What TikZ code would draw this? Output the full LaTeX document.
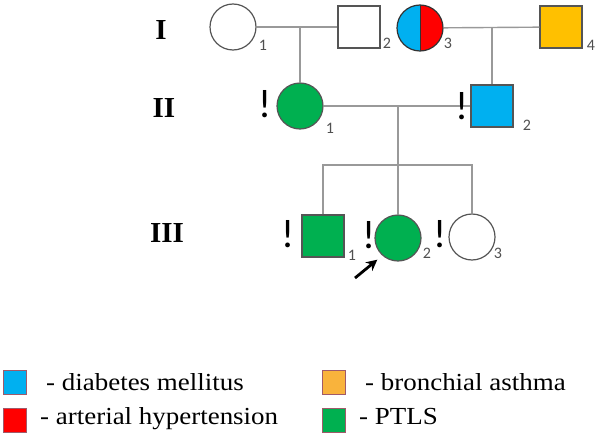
\documentclass[tikz,border=0pt]{standalone}
\usepackage{fontspec}
\setmainfont{Liberation Serif}
\newfontfamily\numfont{Carlito}
\newfontfamily\keyfont[FakeStretch=1.1]{Liberation Serif}
\usetikzlibrary{arrows.meta}
\definecolor{dmblue}{HTML}{00B0F0}
\definecolor{ahred}{HTML}{FF0000}
\definecolor{baorange}{HTML}{FFC000}
\definecolor{keyorange}{HTML}{F9B33C}
\definecolor{ptgreen}{HTML}{00B050}
\definecolor{edge}{HTML}{555555}
\definecolor{link}{HTML}{999999}
\definecolor{keyedge}{HTML}{A05A6A}
\definecolor{numgray}{HTML}{505050}

\begin{document}
\begin{tikzpicture}[x=1pt,y=-1pt,
  fem/.style={circle,draw=edge,line width=1.2pt,minimum size=46pt,inner sep=0pt},
  male/.style={rectangle,draw=edge,line width=1.2pt,minimum size=42pt,inner sep=0pt},
  line/.style={draw=link,line width=1.4pt},
  num/.style={font=\numfont\fontsize{16}{16}\selectfont,text=numgray,inner sep=0pt},
  warn/.style={font=\numfont\fontsize{40}{40}\selectfont,inner sep=0pt},
  gen/.style={font=\fontsize{29}{30}\selectfont\bfseries},
  key/.style={rectangle,draw=keyedge,line width=0.8pt,minimum width=23pt,minimum height=24pt,inner sep=0pt},
  keytext/.style={font=\keyfont\fontsize{24.5}{28}\selectfont,anchor=base west,inner sep=0pt}]
  \useasboundingbox (0,0) rectangle (597,436);
  % generations
  \node[gen] (gI) at (161,30) {I};
  \node[gen] (gII) at (164,108) {II};
  \node[gen] (gIII) at (167,233) {III};
  % generation I
  \node[fem] (I1) at (233,27) {};
  \node[male] (I2) at (359,27) {};
  \node[fem,fill=dmblue,draw=black!80,
    path picture={\fill[ahred] (path picture bounding box.north) rectangle (path picture bounding box.south east);
      \draw[black!80,line width=0.8pt] (path picture bounding box.north) -- (path picture bounding box.south);}] (I3) at (420,28) {};
  \node[male,fill=baorange] (I4) at (561,27) {};
  % generation II
  \node[fem,fill=ptgreen] (II1) at (300,106) {};
  \node[male,fill=dmblue] (II2) at (492,106) {};
  % generation III
  \node[male,fill=ptgreen] (III1) at (323,236) {};
  \node[fem,fill=ptgreen] (III2) at (398,238) {};
  \node[fem] (III3) at (472,237) {};
  \coordinate (sib) at (398,165);
  % lines
  \draw[line] (I1) -- (I2);
  \draw[line] (II1) -- (II1 |- I1);
  \draw[line] (I3) -- (I4);
  \draw[line] (II2) -- (II2 |- I4);
  \draw[line] (II1) -- (II2);
  \draw[line] (III2) -- (III2 |- II1);
  \draw[line] (III1) -- (III1 |- sib) -- (III3 |- sib) -- (III3);
  % numbers
  \node[num] (nI1) at (263,45) {1};
  \node[num] (nI2) at (387,43) {2};
  \node[num] (nI3) at (448,43) {3};
  \node[num] (nI4) at (591,45) {4};
  \node[num] (nII1) at (330,128) {1};
  \node[num] (nII2) at (527,125) {2};
  \node[num] (nIII1) at (352,255) {1};
  \node[num] (nIII2) at (427,253) {2};
  \node[num] (nIII3) at (498,253) {3};
  % exclamation marks
  \node[warn] (wII1) at (265,104) {!};
  \node[warn] (wII2) at (462,106) {!};
  \node[warn] (wIII1) at (288,234) {!};
  \node[warn] (wIII2) at (369,235) {!};
  \node[warn] (wIII3) at (440,234) {!};
  % proband
  \coordinate (pb) at (355,278);
  \draw[line width=2.8pt,-{Stealth[length=11pt,width=11pt]}] (pb) -- ([shift={(-4,5)}]III2.south west);
  % legend
  \node[key,fill=dmblue] (kDM) at (15,382) {};
  \node[key,fill=ahred] (kAH) at (15,420) {};
  \node[key,fill=keyorange] (kBA) at (334,382) {};
  \node[key,fill=ptgreen] (kPT) at (334,420) {};
  \node[keytext] (tDM) at (46,390) {- diabetes mellitus};
  \node[keytext] (tAH) at (40,424) {- arterial hypertension};
  \node[keytext] (tBA) at (365,390) {- bronchial asthma};
  \node[keytext] (tPT) at (359,424) {- PTLS};
\end{tikzpicture}
\end{document}
